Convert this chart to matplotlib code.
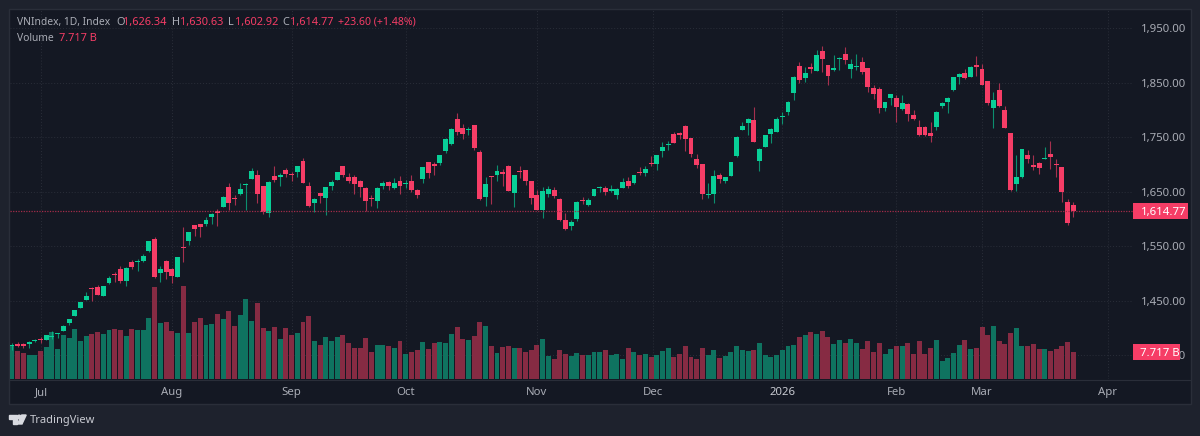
#!/usr/bin/env python
# -*- coding: utf-8 -*-
# VNIndex daily candles with volume, dark TradingView look

import matplotlib
matplotlib.use('Agg')
import matplotlib.pyplot as plt
from matplotlib.patches import Rectangle, Polygon, Circle
from matplotlib.transforms import blended_transform_factory

opens = [1366.3,1370.6,1371.2,1370.6,1376.1,1380.4,1378.0,1384.1,1388.4,1394.5,
    1408.5,1422.6,1437.3,1451.4,1473.4,1475.2,1459.3,1482.0,1499.1,1508.9,
    1485.7,1520.5,1521.2,1522.4,1541.3,1564.0,1501.6,1523.0,1507.7,1493.6,
    1548.7,1559.7,1588.5,1590.3,1590.9,1603.8,1615.4,1622.7,1658.8,1638.7,
    1646.6,1662.5,1674.2,1680.3,1660.1,1611.7,1679.0,1677.7,1690.6,1682.6,
    1686.3,1705.9,1661.2,1628.8,1647.1,1639.2,1661.2,1671.6,1696.7,1677.1,
    1676.5,1669.8,1656.9,1638.0,1632.5,1660.6,1667.9,1656.9,1669.2,1664.3,
    1669.2,1652.6,1672.8,1704.1,1701.6,1702.2,1724.9,1737.7,1783.0,1766.5,
    1763.4,1772.6,1723.0,1640.4,1679.0,1680.8,1686.3,1696.7,1648.4,1686.9,
    1689.4,1669.8,1644.7,1617.2,1646.5,1653.3,1636.7,1598.8,1587.2,1600.6,
    1634.3,1625.7,1642.9,1657.5,1656.3,1652.0,1644.1,1656.9,1669.8,1666.7,
    1686.3,1684.5,1702.8,1701.6,1725.5,1735.9,1756.1,1757.3,1771.4,1748.1,
    1709.6,1700.4,1644.7,1645.3,1680.2,1669.2,1679.6,1716.3,1764.0,1776.9,
    1781.2,1705.9,1732.8,1755.5,1760.4,1787.9,1797.1,1831.6,1880.5,1859.7,
    1878.7,1872.6,1909.3,1882.4,1873.2,1894.0,1903.2,1876.3,1879.9,1889.1,
    1876.9,1840.2,1838.3,1804.1,1821.8,1823.0,1801.6,1811.4,1790.6,1768.6,
    1769.8,1757.6,1769.8,1807.8,1813.9,1837.1,1861.6,1868.9,1861.0,1882.4,
    1875.0,1853.6,1802.9,1837.1,1800.4,1757.6,1664.6,1676.3,1717.2,1698.3,
    1702.0,1709.9,1718.5,1700.7,1695.2,1631.0,1626.34]

highs = [1371.8,1374.3,1373.0,1375.5,1379.8,1384.1,1386.5,1393.9,1391.4,1404.9,
    1417.1,1433.6,1447.7,1465.5,1475.9,1478.3,1477.1,1496.1,1502.8,1513.8,
    1511.4,1524.8,1526.0,1535.8,1559.7,1566.4,1513.8,1524.8,1510.1,1530.9,
    1585.4,1576.2,1589.1,1591.5,1603.2,1610.5,1617.8,1641.7,1666.8,1644.2,
    1666.8,1666.2,1694.3,1689.4,1660.7,1669.9,1697.3,1684.5,1693.7,1686.9,
    1697.3,1712.0,1667.3,1638.0,1647.1,1659.4,1671.6,1686.3,1697.3,1685.1,
    1680.2,1671.6,1659.4,1644.1,1658.2,1669.2,1669.2,1675.3,1678.4,1671.6,
    1680.8,1655.7,1695.5,1704.7,1704.7,1717.5,1748.1,1766.5,1794.0,1774.4,
    1768.3,1773.2,1726.7,1677.7,1679.0,1698.5,1691.2,1698.5,1680.8,1697.3,
    1690.6,1670.4,1653.3,1658.2,1660.0,1658.2,1638.0,1611.0,1597.6,1632.5,
    1640.4,1638.0,1655.1,1661.2,1661.2,1661.8,1656.3,1674.7,1676.5,1681.4,
    1694.9,1697.3,1715.7,1717.5,1740.8,1742.6,1759.1,1759.7,1772.0,1749.3,
    1719.4,1701.0,1666.1,1690.0,1683.9,1677.7,1705.3,1751.8,1777.5,1784.8,
    1805.0,1729.8,1754.9,1767.1,1787.9,1796.5,1816.1,1862.2,1888.5,1879.3,
    1887.3,1910.5,1917.8,1883.0,1901.3,1898.3,1915.4,1893.4,1903.8,1898.3,
    1878.1,1845.1,1842.6,1815.1,1830.4,1827.3,1827.9,1812.6,1800.4,1782.1,
    1771.1,1777.2,1798.6,1815.7,1824.3,1861.6,1867.7,1875.6,1881.8,1898.9,
    1884.8,1854.2,1833.4,1849.3,1807.1,1758.2,1717.2,1728.9,1726.4,1717.8,
    1703.8,1732.5,1742.9,1709.9,1695.8,1637.1,1630.63]

lows = [1359.6,1365.7,1362.6,1363.9,1374.3,1371.8,1378.0,1379.2,1381.6,1393.9,
    1406.1,1422.6,1436.1,1450.8,1449.5,1460.6,1459.3,1481.4,1485.0,1483.2,
    1477.7,1508.9,1504.6,1521.8,1540.1,1492.4,1485.0,1489.3,1483.2,1493.0,
    1521.2,1552.4,1568.9,1566.4,1587.2,1591.5,1587.2,1622.1,1616.6,1626.4,
    1643.5,1616.0,1673.5,1629.5,1609.9,1604.4,1668.0,1660.6,1677.7,1670.4,
    1676.5,1665.5,1622.7,1613.5,1630.0,1607.4,1653.3,1671.0,1676.5,1666.7,
    1645.9,1641.0,1615.3,1623.9,1620.2,1655.7,1653.3,1655.7,1645.9,1656.9,
    1650.2,1639.2,1665.5,1675.3,1680.8,1699.8,1721.8,1736.5,1754.2,1746.9,
    1753.6,1726.7,1635.5,1623.9,1628.2,1669.8,1660.6,1650.8,1622.1,1675.9,
    1663.1,1626.9,1615.9,1602.5,1640.4,1638.0,1597.0,1579.8,1579.2,1597.0,
    1627.6,1623.9,1642.2,1649.0,1643.5,1649.0,1636.1,1656.3,1656.3,1664.3,
    1680.8,1679.0,1697.3,1690.6,1714.5,1726.1,1739.0,1746.3,1724.9,1713.2,
    1693.7,1636.7,1638.0,1630.0,1665.5,1665.5,1679.0,1713.2,1763.4,1754.2,
    1740.8,1688.8,1732.2,1740.2,1759.8,1775.0,1791.0,1818.8,1850.0,1852.4,
    1867.7,1872.0,1870.1,1845.1,1872.6,1873.8,1884.2,1859.1,1874.4,1867.1,
    1832.8,1821.2,1793.7,1797.4,1808.4,1778.4,1800.4,1780.2,1782.1,1751.5,
    1752.7,1741.7,1763.7,1804.7,1793.7,1835.9,1848.7,1857.9,1860.4,1863.4,
    1845.1,1808.4,1766.8,1806.5,1766.2,1651.8,1651.8,1675.6,1702.0,1689.1,
    1681.8,1709.3,1692.2,1676.9,1630.4,1588.8,1602.92]

closes = [1368.8,1367.5,1366.3,1374.3,1378.0,1378.0,1386.5,1385.9,1389.6,1404.3,
    1416.5,1433.0,1447.1,1458.7,1471.6,1461.2,1476.5,1491.2,1497.9,1485.7,
    1510.1,1512.0,1523.0,1532.2,1559.1,1493.6,1508.9,1503.4,1496.1,1529.7,
    1547.5,1575.6,1582.4,1584.8,1598.3,1609.3,1611.7,1641.1,1630.1,1636.8,
    1654.6,1665.0,1687.6,1645.4,1613.6,1668.0,1671.0,1681.4,1682.0,1681.4,
    1697.3,1666.7,1623.9,1637.3,1642.2,1658.2,1667.3,1685.7,1680.8,1669.8,
    1664.3,1658.2,1633.7,1637.4,1657.5,1665.5,1660.6,1666.1,1661.2,1664.9,
    1652.6,1644.7,1694.9,1684.5,1697.3,1716.9,1747.5,1764.6,1760.4,1756.7,
    1765.9,1730.4,1636.7,1663.7,1677.7,1688.1,1683.2,1652.0,1680.2,1685.7,
    1669.2,1639.2,1617.2,1652.0,1654.5,1642.2,1598.2,1581.1,1593.9,1631.8,
    1633.1,1635.5,1654.5,1659.4,1649.0,1655.7,1655.1,1668.6,1660.6,1680.2,
    1683.9,1691.2,1701.0,1716.9,1731.6,1737.1,1739.6,1753.6,1746.3,1718.7,
    1698.5,1646.5,1645.9,1679.0,1673.5,1677.1,1704.1,1751.2,1771.4,1783.0,
    1742.0,1729.1,1754.2,1765.9,1783.6,1789.7,1815.4,1861.6,1854.8,1867.7,
    1876.3,1901.9,1894.0,1863.4,1878.1,1895.8,1892.8,1884.2,1881.8,1870.1,
    1843.2,1829.8,1802.9,1814.5,1828.6,1805.3,1813.3,1791.9,1782.7,1754.5,
    1754.5,1753.3,1796.7,1812.6,1823.0,1860.4,1866.5,1859.7,1879.3,1879.3,
    1845.7,1812.6,1818.2,1807.8,1767.4,1653.0,1676.9,1728.3,1709.3,1695.8,
    1692.8,1711.1,1714.2,1698.9,1648.7,1591.9,1614.77]

# billions
volumes = [9.7,8.2,7.4,7.0,6.9,8.1,9.2,13.7,8.7,12.6,
    11.9,14.4,11.0,12.4,13.0,13.6,13.0,14.1,14.5,14.2,
    12.4,14.4,14.2,14.1,17.8,26.5,16.1,16.4,14.0,13.2,
    26.9,13.2,16.5,17.8,15.6,15.8,18.8,17.4,19.8,15.4,
    18.6,23.1,16.7,22.0,14.7,13.9,15.1,11.6,14.7,12.6,
    13.2,16.5,18.2,11.1,9.8,12.3,10.9,12.1,12.8,10.4,
    9.1,9.1,11.8,7.8,9.8,9.7,9.5,9.1,11.0,7.1,
    7.7,8.4,10.6,8.7,10.4,10.6,10.4,13.0,15.1,11.5,
    11.4,12.4,16.5,15.3,9.6,7.4,9.3,9.6,9.1,8.9,
    7.9,8.3,9.8,11.7,6.7,5.8,8.3,7.2,6.7,7.5,
    6.9,7.0,7.7,7.7,8.4,6.9,7.2,5.8,8.9,7.8,
    7.0,7.2,6.4,6.9,8.0,8.9,6.5,7.2,9.6,6.5,
    5.8,9.1,6.9,8.3,6.1,6.7,7.7,9.6,8.5,8.1,
    8.3,10.5,6.9,6.4,7.0,8.4,9.6,9.8,12.3,12.6,
    13.5,13.0,13.9,12.1,10.0,11.3,10.4,11.7,10.3,8.7,
    10.9,7.8,10.3,7.2,8.7,9.6,9.6,10.3,7.2,11.1,
    7.2,9.1,11.3,5.1,6.1,7.5,9.8,11.3,8.7,9.1,
    15.1,12.7,15.2,11.0,10.1,13.4,14.9,9.6,9.5,10.1,
    8.7,8.7,8.2,8.6,9.5,10.6,7.717]

month_pos = [5.1, 28, 49, 69, 92, 112.3, 135, 155, 170, 192]
month_labels = ['Jul', 'Aug', 'Sep', 'Oct', 'Nov', 'Dec', '2026', 'Feb', 'Mar', 'Apr']
price_ticks = [1950, 1850, 1750, 1650, 1550, 1450, 1350]
last_price = closes[-1]
last_volume = volumes[-1]

FONT = ['Noto Sans', 'DejaVu Sans']
BG = '#1e222d'
PANEL = '#141823'
EDGE = '#2a2e39'
UP = '#08cf97'
DOWN = '#f63d66'
VOL_UP = '#0f7360'
VOL_DOWN = '#862b43'
GRID = '#2a2e39'
TEXT = '#a9acb5'
PRICE_LINE = '#a32c49'

W, H = 1200, 436
plt.rcParams['font.family'] = FONT


def px_axes(x0, y0, x1, y1, **kw):
    # pixel box measured from top left, like the screenshot
    return fig.add_axes([x0 / W, 1 - y1 / H, (x1 - x0) / W, (y1 - y0) / H], **kw)


fig = plt.figure(figsize=(W / 100, H / 100), dpi=100, facecolor=BG)

# panel and logo live in a full size pixel axes
chrome = px_axes(0, 0, W, H)
chrome.set_xlim(0, W)
chrome.set_ylim(H, 0)
chrome.axis('off')
chrome.add_patch(Rectangle((9, 9), 1181.5, 395, facecolor=PANEL, edgecolor=EDGE, lw=1))
chrome.plot([9, 1190.5], [379.5, 379.5], color=EDGE, lw=0.8)
chrome.add_patch(Polygon([(9.3, 415), (17, 415), (17, 424), (13, 424), (13, 418.6), (9.3, 418.6)], color='#d8dae0'))
chrome.add_patch(Circle((19.2, 417), 1.8, color='#d8dae0'))
chrome.add_patch(Polygon([(21.8, 415), (26.2, 415), (22, 424), (17.5, 424)], color='#d8dae0'))
chrome.text(29.5, 420, 'TradingView', color='#c8cad1', fontsize=8.0, va='center', ha='left', fontweight='semibold')

# data index to pixel: 12 + 5.706 * i, price: 54.47 px per 100 points
x_left = (9.5 - 12) / 5.706
x_right = (1133 - 12) / 5.706
y_top = 1750 + (137.3 - 9) / 0.5447
y_bot = 1750 - (379 - 137.3) / 0.5447
idx = list(range(len(closes)))
colors = [UP if c >= o else DOWN for o, c in zip(opens, closes)]
vol_colors = [VOL_UP if c >= o else VOL_DOWN for o, c in zip(opens, closes)]

# bottom layer: grid and axis labels
ax = px_axes(9.5, 9, 1133, 379)
ax.patch.set_visible(False)
ax.set_xlim(x_left, x_right)
ax.set_ylim(y_bot, y_top)
for s in ax.spines.values():
    s.set_visible(False)
ax.set_yticks(price_ticks)
ax.set_yticklabels(['{:,.2f}'.format(p) for p in price_ticks])
ax.yaxis.tick_right()
ax.tick_params(axis='y', length=0, pad=5.8, labelsize=8.2, labelcolor=TEXT)
ax.set_xticks(month_pos)
ax.set_xticklabels(month_labels)
ax.tick_params(axis='x', length=0, pad=6, labelsize=8.2, labelcolor=TEXT)
ax.get_xticklabels()[6].set_fontweight('bold')
ax.get_xticklabels()[6].set_color('#c8cad1')
ax.grid(True, color=GRID, lw=0.7, ls=(0, (1, 2)))
ax.set_axisbelow(True)

# middle layer: volume
ax_vol = px_axes(9.5, 9, 1133, 379)
ax_vol.patch.set_visible(False)
ax_vol.axis('off')
ax_vol.set_xlim(x_left, x_right)
ax_vol.set_ylim(0, 370 * 0.2895)
ax_vol.bar(idx, volumes, width=0.87, color=vol_colors, linewidth=0)

# top layer: candles
ax_c = px_axes(9.5, 9, 1133, 379)
ax_c.patch.set_visible(False)
ax_c.axis('off')
ax_c.set_xlim(x_left, x_right)
ax_c.set_ylim(y_bot, y_top)
ax_c.vlines(idx, lows, highs, colors=colors, lw=0.8, alpha=0.65)
bottoms = [min(o, c) for o, c in zip(opens, closes)]
# a doji still shows about one pixel of body
heights = [max(abs(c - o), 1.8) for o, c in zip(opens, closes)]
ax_c.bar(idx, heights, bottom=bottoms, width=0.86, color=colors, linewidth=0)
ax_c.axhline(last_price, color=PRICE_LINE, lw=0.9, ls=(0, (1, 1.1)))

# last value tags on the price scale
trans = blended_transform_factory(ax_c.transAxes, ax_c.transData)
ax_c.add_patch(Rectangle((1.0, last_price - 14.7), 54.5 / 1123.5, 29.4, transform=trans,
                         facecolor=DOWN, edgecolor='none', clip_on=False, zorder=5))
ax_c.text(1 + 7.5 / 1123.5, last_price, '{:,.2f}'.format(last_price), transform=trans, color='white',
          fontsize=8.2, va='center_baseline', ha='left', fontweight='semibold', zorder=6)
trans_v = blended_transform_factory(ax_vol.transAxes, ax_vol.transData)
ax_vol.add_patch(Rectangle((1.0, last_volume - 2.3), 47 / 1123.5, 4.6, transform=trans_v,
                           facecolor=DOWN, edgecolor='none', clip_on=False, zorder=5))
ax_vol.text(1 + 7.5 / 1123.5, last_volume, '7.717 B', transform=trans_v, color='white',
            fontsize=8.2, va='center_baseline', ha='left', fontweight='semibold', zorder=6)

# legend text at the top left
legend = [(16.7, 'VNIndex, 1D, Index', TEXT, 7.4), (116, 'O', TEXT, 7.9), (123.3, '1,626.34', DOWN, 7.9),
          (172.3, 'H', TEXT, 7.9), (180.3, '1,630.63', DOWN, 7.9), (228, 'L', TEXT, 7.9), (235, '1,602.92', DOWN, 7.9),
          (282.3, 'C', TEXT, 7.9), (290, '1,614.77', DOWN, 7.9), (337.7, '+23.60 (+1.48%)', DOWN, 7.6)]
for x, s, c, fs in legend:
    chrome.text(x, 22.5, s, color=c, fontsize=fs, va='center', ha='left', zorder=10)
chrome.text(16.7, 38.3, 'Volume', color=TEXT, fontsize=7.4, va='center', ha='left', zorder=10)
chrome.text(59, 38.3, '7.717 B', color=DOWN, fontsize=7.9, va='center', ha='left', zorder=10)

fig.savefig('out.png', dpi=100, facecolor=BG)
